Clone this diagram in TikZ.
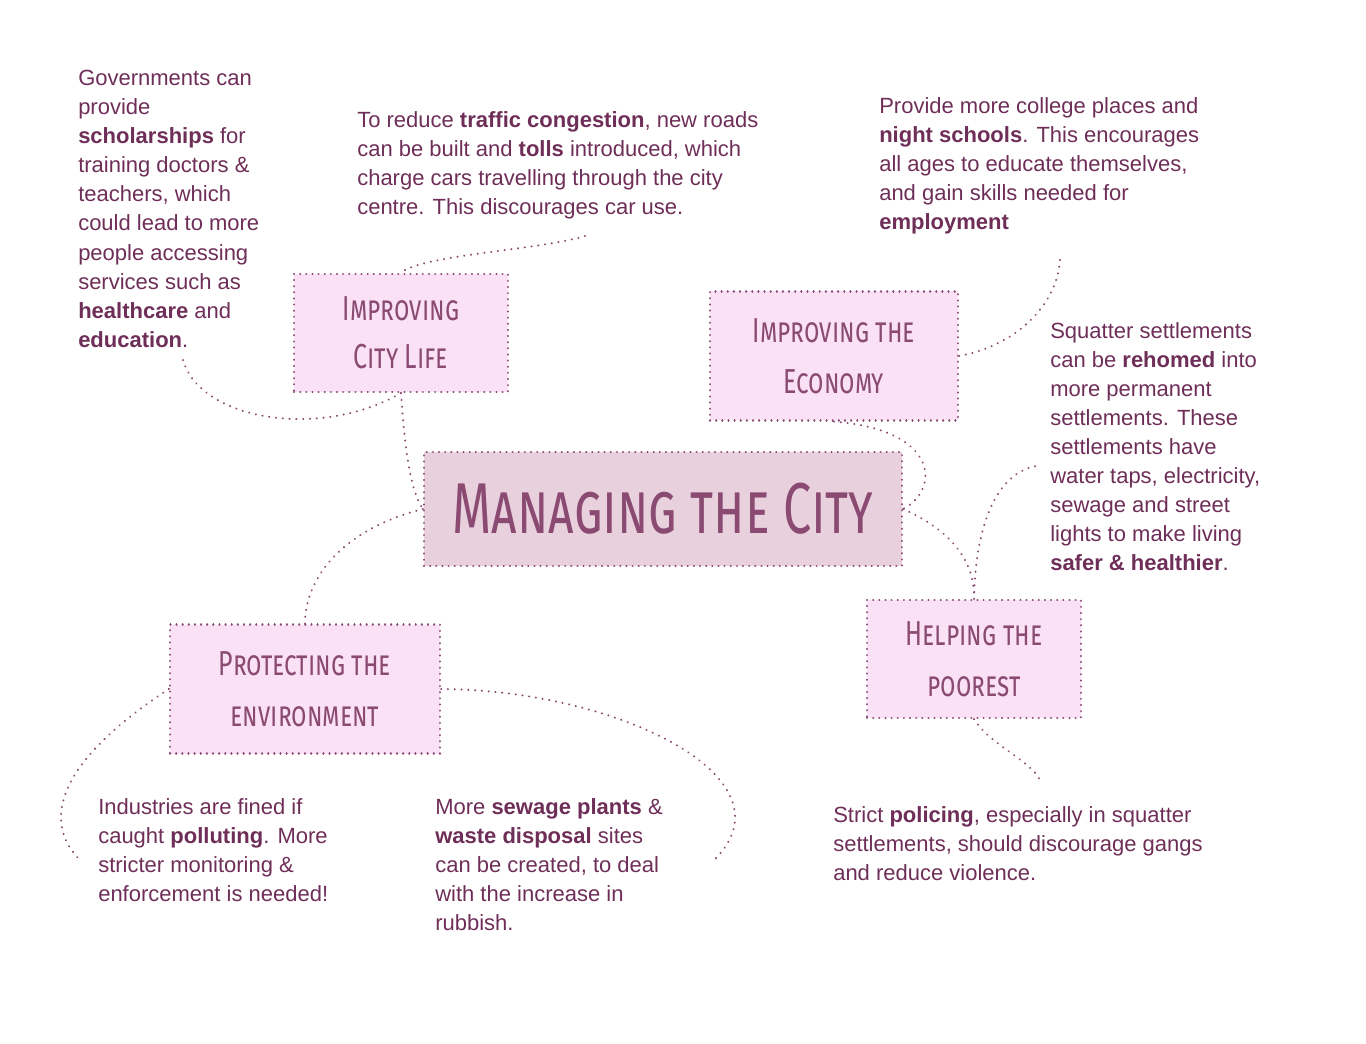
\documentclass[tikz,border=0pt]{standalone}
\usepackage{fontspec}
\setmainfont{Liberation Sans}
\newfontfamily\titlefont[Letters=SmallCaps]{Fira Sans}
\begin{document}
\definecolor{txt}{HTML}{6E2E58}
\definecolor{hd}{HTML}{8A4A72}
\definecolor{lp}{HTML}{FAE1F6}
\definecolor{mp}{HTML}{E8D0DD}
\begin{tikzpicture}[x=0.75pt,y=-0.75pt,
  box/.style={draw=hd,line width=1.6pt,dash pattern=on 0.1pt off 4.5pt,line cap=round,fill=lp,inner sep=0pt},
  hl/.style={font=\titlefont\fontsize{26}{40}\selectfont,text=hd,align=center},
  body/.style={anchor=north west,align=left,text=txt,font=\fontsize{16.5}{21.8}\selectfont,inner sep=0pt},
  con/.style={draw=hd,line width=1.6pt,dash pattern=on 0.1pt off 5pt,line cap=round}]
\useasboundingbox (0,0) rectangle (1366,1044);
% boxes
\node[box,minimum width=214*0.75pt,minimum height=118*0.75pt] (cl) at (401,333) {};
\node[hl] at (cl) {\scalebox{0.72}[1]{Improving}\\[-4pt]\scalebox{0.72}[1]{City Life}};
\node[box,minimum width=248*0.75pt,minimum height=129*0.75pt] (ec) at (834,356) {};
\node[hl] at (ec) {\scalebox{0.72}[1]{Improving the}\\[-2pt]\scalebox{0.72}[1]{Economy}};
\node[box,fill=mp,minimum width=478*0.75pt,minimum height=114*0.75pt] (mc) at (663,509) {};
\node[hl,font=\titlefont\fontsize{54}{60}\selectfont] at (mc) {\scalebox{0.7}[1]{Managing the City}};
\node[box,minimum width=214*0.75pt,minimum height=118*0.75pt] (hp) at (974,659) {};
\node[hl] at (hp) {\scalebox{0.72}[1]{Helping the}\\[-2pt]\scalebox{0.72}[1]{poorest}};
\node[box,minimum width=270*0.75pt,minimum height=129*0.75pt] (pe) at (305,689) {};
\node[hl] at (pe) {\scalebox{0.72}[1]{Protecting the}\\[-2pt]\scalebox{0.72}[1]{environment}};
% texts
\node[body] (t1) at (78,70) {Governments can\\provide\\\textbf{scholarships} for\\training doctors \&\\teachers, which\\could lead to more\\people accessing\\services such as\\\textbf{healthcare} and\\\textbf{education}.};
\node[body] (t2) at (357,111) {To reduce \textbf{traffic congestion}, new roads\\can be built and \textbf{tolls} introduced, which\\charge cars travelling through the city\\centre. This discourages car use.};
\node[body] (t3) at (879,97) {Provide more college places and\\\textbf{night schools}. This encourages\\all ages to educate themselves,\\and gain skills needed for\\\textbf{employment}};
\node[body] (t4) at (1050,322) {Squatter settlements\\can be \textbf{rehomed} into\\more permanent\\settlements. These\\settlements have\\water taps, electricity,\\sewage and street\\lights to make living\\\textbf{safer \& healthier}.};
\node[body] (t5) at (833,806) {Strict \textbf{policing}, especially in squatter\\settlements, should discourage gangs\\and reduce violence.};
\node[body] (t6) at (98,798) {Industries are fined if\\caught \textbf{polluting}. More\\stricter monitoring \&\\enforcement is needed!};
\node[body] (t7) at (435,798) {More \textbf{sewage plants} \&\\\textbf{waste disposal} sites\\can be created, to deal\\with the increase in\\rubbish.};
% connectors
\coordinate (a1) at (585,236); \coordinate (a2) at (183,360);
\coordinate (a3) at (1060,256); \coordinate (a4) at (1036,466);
\coordinate (a5) at (1040,780); \coordinate (a6) at (80,860);
\coordinate (a7) at (712,862);
\draw[con] (a1) .. controls (540,250) and (420,255) .. (cl.north);
\draw[con] (a2) .. controls (200,420) and (320,440) .. (cl.south);
\draw[con] (cl.south) .. controls (405,450) and (410,490) .. (mc.west);
\draw[con] (mc.west) .. controls (340,530) and (305,580) .. (pe.north);
\draw[con] (pe.west) .. controls (60,760) and (40,820) .. (a6);
\draw[con] (pe.east) .. controls (620,690) and (800,780) .. (a7);
\draw[con] (ec.east) .. controls (1020,345) and (1060,300) .. (a3);
\draw[con] (ec.south) .. controls (940,430) and (940,490) .. (mc.east);
\draw[con] (mc.east) .. controls (950,530) and (975,560) .. (hp.north);
\draw[con] (hp.north) .. controls (975,540) and (990,475) .. (a4);
\draw[con] (hp.south) .. controls (990,745) and (1030,760) .. (a5);
\end{tikzpicture}
\end{document}
